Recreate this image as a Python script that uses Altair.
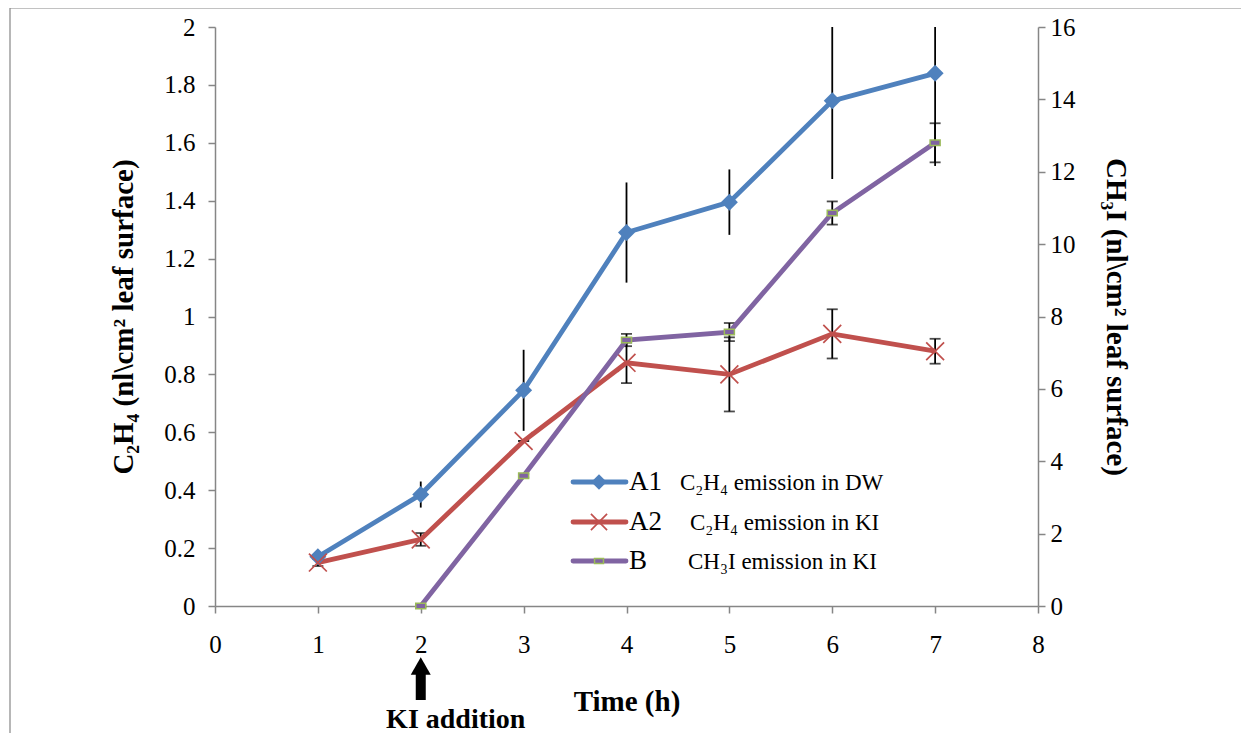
import altair as alt
import pandas as pd

# ---- data ----
time = [1, 2, 3, 4, 5, 6, 7]
a1_val = [0.17, 0.385, 0.745, 1.29, 1.395, 1.745, 1.84]
a1_err = [0.0, 0.045, 0.14, 0.173, 0.113, 0.27, 0.32]
a2_val = [0.15, 0.23, 0.57, 0.84, 0.80, 0.94, 0.88]
a2_err = [0.012, 0.022, 0.0, 0.07, 0.128, 0.085, 0.043]
b_time = [2, 3, 4, 5, 6, 7]
b_val = [0.0, 3.6, 7.35, 7.57, 10.86, 12.8]
b_err = [0.03, 0.05, 0.17, 0.25, 0.32, 0.54]

left_ticks = [0, 0.2, 0.4, 0.6, 0.8, 1, 1.2, 1.4, 1.6, 1.8, 2]
right_ticks = [0, 2, 4, 6, 8, 10, 12, 14, 16]
x_ticks = [0, 1, 2, 3, 4, 5, 6, 7, 8]

legend_codes = ["A1", "A2", "B"]
legend_desc = ["C₂H₄ emission in DW", "C₂H₄ emission in KI", "CH₃I emission in KI"]

FONT = "Liberation Serif"
BLUE = "#4F81BD"
RED = "#C0504D"
PURPLE = "#8064A2"
GREEN = "#9BBB59"
AXC = "#868686"


def frame(t, v, e):
    d = pd.DataFrame({"t": t, "v": v, "e": e})
    d["lo"] = d["v"] - d["e"]
    d["hi"] = d["v"] + d["e"]
    return d


d1 = frame(time, a1_val, a1_err)
d2 = frame(time, a2_val, a2_err)
db = frame(b_time, b_val, b_err)

xs = alt.Scale(domain=[0, 8], nice=False, zero=False)
yl = alt.Scale(domain=[0, 2], nice=False)
yr = alt.Scale(domain=[0, 16], nice=False)

x_axis = alt.Axis(values=x_ticks, title="Time (h)", grid=False, labelPadding=19,
                  titlePadding=30, labelFlush=False)
yl_axis = alt.Axis(values=left_ticks, format="~g", grid=False, orient="left",
                   title="C₂H₄ (nl\\cm² leaf surface)", labelPadding=13, titlePadding=25)
yr_axis = alt.Axis(values=right_ticks, format="~g", grid=False, orient="right",
                   title="CH₃I (nl\\cm² leaf surface)", labelPadding=5, titlePadding=25)

X = alt.X("t:Q", scale=xs, axis=x_axis)


def YL(f):
    return alt.Y(f, scale=yl, axis=yl_axis)


def YR(f):
    return alt.Y(f, scale=yr, axis=yr_axis)


# ---- left axis series ----
a1_rule = alt.Chart(d1).mark_rule(color="black", strokeWidth=1.8, clip=True).encode(
    x=X, y=YL("lo:Q"), y2="hi:Q")
a2_rule = alt.Chart(d2).mark_rule(color="black", strokeWidth=1.8).encode(
    x=X, y=YL("lo:Q"), y2="hi:Q")
a2_cap_lo = alt.Chart(d2).mark_tick(color="black", thickness=1.8, size=11, orient="horizontal").encode(
    x=X, y=YL("lo:Q"))
a2_cap_hi = alt.Chart(d2).mark_tick(color="black", thickness=1.8, size=11, orient="horizontal").encode(
    x=X, y=YL("hi:Q"))

a1_line = alt.Chart(d1).mark_line(color=BLUE, strokeWidth=4.8).encode(x=X, y=YL("v:Q"))
a2_line = alt.Chart(d2).mark_line(color=RED, strokeWidth=4.8).encode(x=X, y=YL("v:Q"))
a1_pts = alt.Chart(d1).mark_point(shape="diamond", filled=True, color=BLUE, size=290, opacity=1).encode(
    x=X, y=YL("v:Q"))
XPATH = "M-1,-1L1,1M-1,1L1,-1"
a2_pts = alt.Chart(d2).mark_point(shape=XPATH, filled=False, color=RED, size=320, strokeWidth=1.7, opacity=1).encode(
    x=X, y=YL("v:Q"))

# ---- right axis series ----
b_rule = alt.Chart(db).mark_rule(color="black", strokeWidth=1.8).encode(
    x=X, y=YR("lo:Q"), y2="hi:Q")
b_cap_lo = alt.Chart(db).mark_tick(color="black", thickness=1.8, size=11, orient="horizontal").encode(
    x=X, y=YR("lo:Q"))
b_cap_hi = alt.Chart(db).mark_tick(color="black", thickness=1.8, size=11, orient="horizontal").encode(
    x=X, y=YR("hi:Q"))
b_line = alt.Chart(db).mark_line(color=PURPLE, strokeWidth=4.8).encode(x=X, y=YR("v:Q"))
BPATH = "M-1,-0.55L1,-0.55L1,0.55L-1,0.55Z"
b_pts = alt.Chart(db).mark_point(shape=BPATH, filled=True, fill=PURPLE, stroke=GREEN, strokeWidth=1.5,
                                 size=100, opacity=1).encode(x=X, y=YR("v:Q"))

# ---- legend (inside plot) ----
one = pd.DataFrame({"k": [0]})
leg_colors = [BLUE, RED, PURPLE]
leg_y = [455, 495, 534]
desc_x = [465, 475, 473]
legend_layers = []
for i in range(3):
    legend_layers.append(alt.Chart(one).mark_rule(color=leg_colors[i], strokeWidth=4.8, strokeCap="round").encode(
        x=alt.value(358), x2=alt.value(411), y=alt.value(leg_y[i])))
legend_layers.append(alt.Chart(one).mark_point(shape="diamond", filled=True, color=BLUE, size=240, opacity=1).encode(
    x=alt.value(384), y=alt.value(leg_y[0])))
legend_layers.append(alt.Chart(one).mark_point(shape=XPATH, filled=False, color=RED, size=260, strokeWidth=1.7, opacity=1).encode(
    x=alt.value(384), y=alt.value(leg_y[1])))
legend_layers.append(alt.Chart(one).mark_point(shape=BPATH, filled=True, fill=PURPLE, stroke=GREEN, strokeWidth=1.5,
                                               size=80, opacity=1).encode(
    x=alt.value(384), y=alt.value(leg_y[2])))
for i in range(3):
    legend_layers.append(alt.Chart(one).mark_text(align="left", baseline="middle", font=FONT, fontSize=27,
                                                  color="black").encode(
        x=alt.value(414), y=alt.value(leg_y[i]), text=alt.value(legend_codes[i])))
    legend_layers.append(alt.Chart(one).mark_text(align="left", baseline="middle", font=FONT, fontSize=23,
                                                  color="black").encode(
        x=alt.value(desc_x[i]), y=alt.value(leg_y[i] + 1), text=alt.value(legend_desc[i])))

# ---- KI addition annotation ----
ki = pd.DataFrame({"t": [2]})
ki_shaft = alt.Chart(ki).mark_rule(color="black", strokeWidth=10).encode(
    x=X, y=alt.value(643), y2=alt.value(673))
ki_head = alt.Chart(ki).mark_point(shape="triangle-up", filled=True, color="black", size=400, opacity=1).encode(
    x=X, y=alt.value(639))
ki_text = alt.Chart(ki).mark_text(font=FONT, fontSize=28, fontWeight="bold", color="black", dx=35,
                                  baseline="middle").encode(
    x=X, y=alt.value(693), text=alt.value("KI addition"))

# ---- outer frame ----
frame_top = alt.Chart(one).mark_rule(color=AXC, strokeWidth=1.2).encode(
    x=alt.value(-205), x2=alt.value(1030), y=alt.value(-19))
frame_left = alt.Chart(one).mark_rule(color=AXC, strokeWidth=1.2).encode(
    x=alt.value(-205), y=alt.value(-19), y2=alt.value(720))

left = alt.layer(a1_rule, a2_rule, a2_cap_lo, a2_cap_hi, a1_line, a2_line, a1_pts, a2_pts,
                 *legend_layers, ki_shaft, ki_head, ki_text, frame_top, frame_left)
right = alt.layer(b_rule, b_cap_lo, b_cap_hi, b_line, b_pts)

chart = alt.layer(left, right).resolve_scale(y="independent").properties(
    width=823, height=579,
    autosize=alt.AutoSizeParams(type="none"),
    padding={"left": 207, "top": 19, "right": 203, "bottom": 127},
).configure_view(stroke=None).configure_axis(
    labelFont=FONT, labelFontSize=25, labelColor="black",
    titleFont=FONT, titleFontSize=29, titleFontWeight="bold", titleColor="black",
    domainColor=AXC, domainWidth=1.5, tickColor=AXC, tickSize=7, tickWidth=1.5,
)

chart.save("out.html", embed_options={"renderer": "svg", "actions": False})
